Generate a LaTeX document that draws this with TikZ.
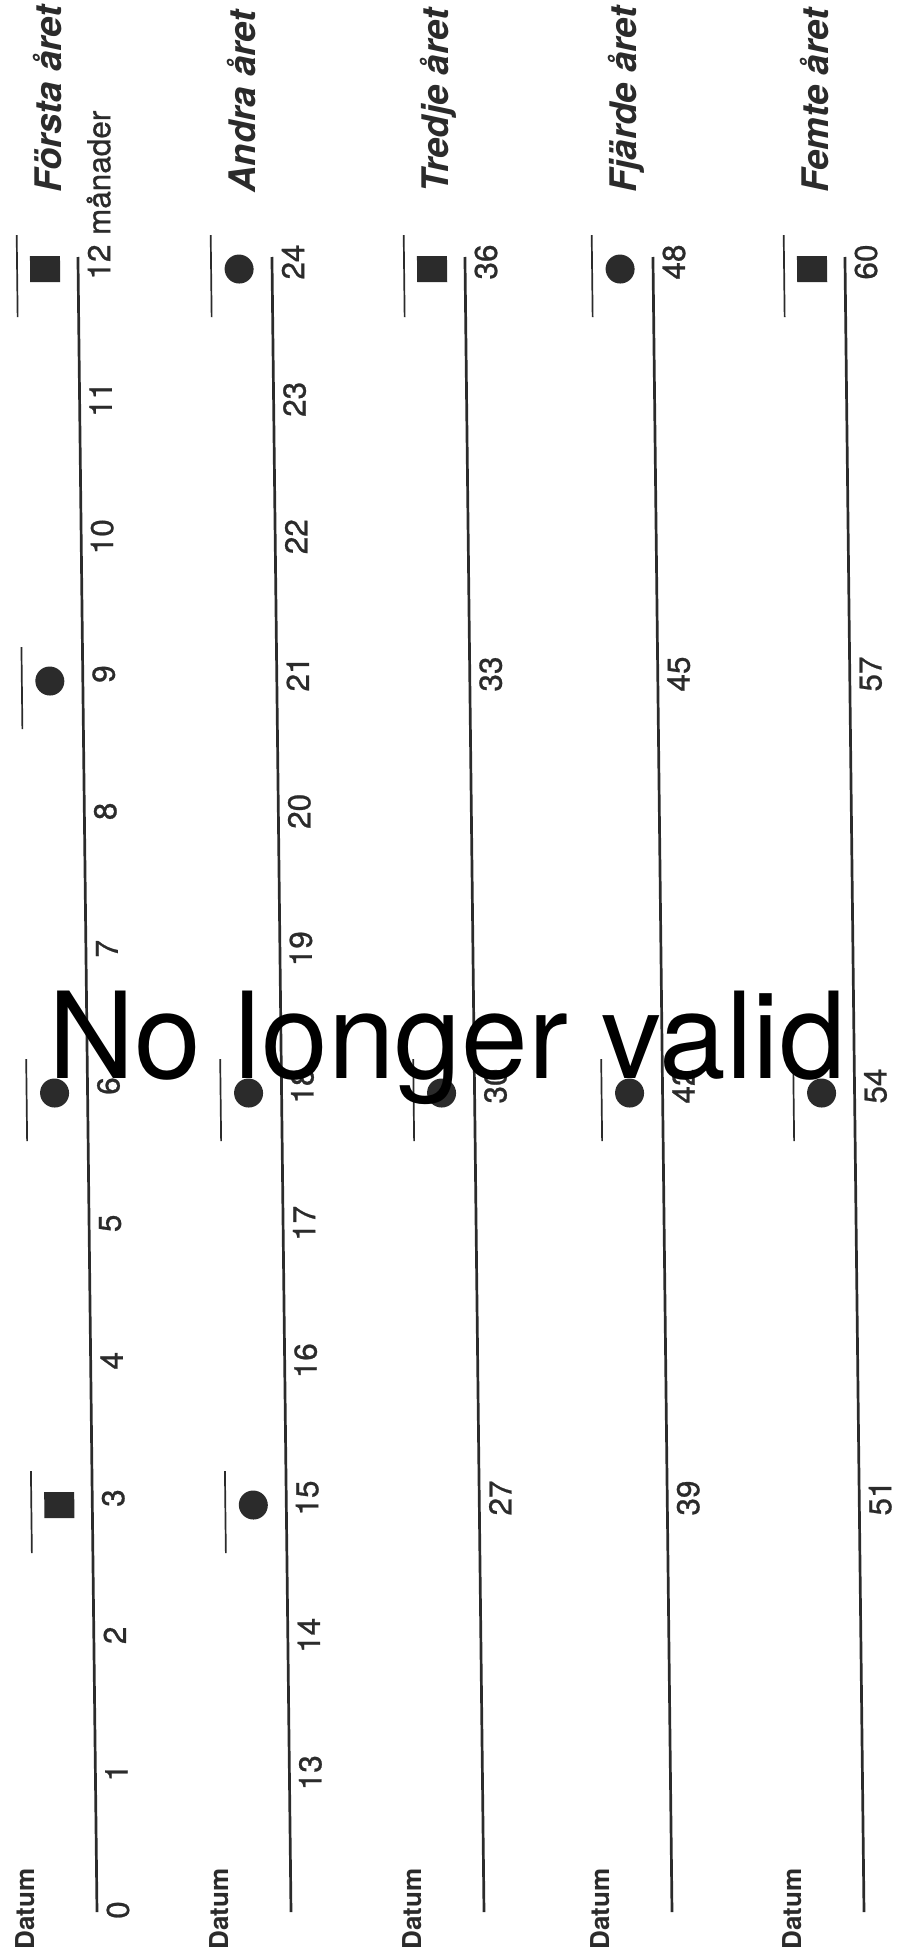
\documentclass[tikz,border=0pt]{standalone}
\usepackage{fontspec}
\setmainfont{TeX Gyre Heros}
\usepackage{tikz}
\usetikzlibrary{positioning}
\definecolor{ink}{HTML}{2B2B2B}

\begin{document}
\begin{tikzpicture}[x=0.5pt, y=-0.5pt,
  tidslinje/.style={draw=ink, line width=1.35pt},
  datumlinje/.style={draw=ink, line width=0.85pt},
  manad/.style={rotate=90, inner sep=0pt, text=ink, font=\fontsize{15.75}{18}\selectfont\addfontfeature{FakeBold=0.8}},
  rubrik/.style={rotate=90, anchor=base west, inner sep=0pt, text=ink, font=\fontsize{18.3}{22}\selectfont\bfseries\itshape},
  datumtext/.style={rotate=90, anchor=base west, inner sep=0pt, text=ink, font=\fontsize{13}{15}\selectfont\bfseries},
  punkt/.style={fill=ink}]
  \fill[white] (0,0) rectangle (896,1959);
  \useasboundingbox (0,0) rectangle (896,1959);

  % Skannat blad, lite snett
  \begin{scope}[xslant=-0.0115]
    % Tidslinjer, ett år per linje
    \foreach \lx/\namn [count=\i] in {75/Första, 269/Andra, 462/Tredje, 650/Fjärde, 842/Femte} {
      \draw[tidslinje] (\lx,257) -- (\lx,1912);
      \node[rubrik] (ar\i) at ({\lx-16},193) {\namn\ året};
      \node[datumtext] (datum\i) at ({\lx-63},1950) {Datum};
    }

    % Månader
    \foreach \p in {0,...,12} {
      \node[manad] (m\p) at (96,{1910-137.33*\p}) {\p};
    }
    \node[manad, anchor=base west] (enhet) at (m12.base east) {\ månader};
    \foreach \p in {1,...,12} {
      \pgfmathtruncatemacro\nr{12+\p}
      \node[manad] (m\nr) at (290,{1910-137.33*\p}) {\nr};
    }
    \foreach \lx/\ar in {462/2, 650/3, 842/4} {
      \foreach \p in {3,6,9,12} {
        \pgfmathtruncatemacro\nr{12*\ar+\p}
        \node[manad] (m\nr) at ({\lx+21},{1910-137.33*\p}) {\nr};
      }
    }

    % Besök: 1 = kvadrat, 0 = cirkel
    \foreach \lx/\p/\form in {75/3/1, 75/6/0, 75/9/0, 75/12/1,
        269/3/0, 269/6/0, 269/12/0, 462/6/0, 462/12/1,
        650/6/0, 650/12/0, 842/6/0, 842/12/1} {
      \pgfmathsetmacro\t{1910-137.33*\p}
      \draw[datumlinje] ({\lx-61},{\t-27}) -- ++(0,82);
      \ifnum\form=1
        \fill[punkt] ({\lx-48},{\t-6}) rectangle ++(30,26);
      \else
        \fill[punkt] ({\lx-33},{\t+7}) circle[radius=7.25pt];
      \fi
    }
  \end{scope}

  % Stämpel
  \node[anchor=base, inner sep=0pt, font=\fontsize{60}{72}\selectfont] (ogiltig) at (447,1078) {No longer valid};
\end{tikzpicture}
\end{document}
